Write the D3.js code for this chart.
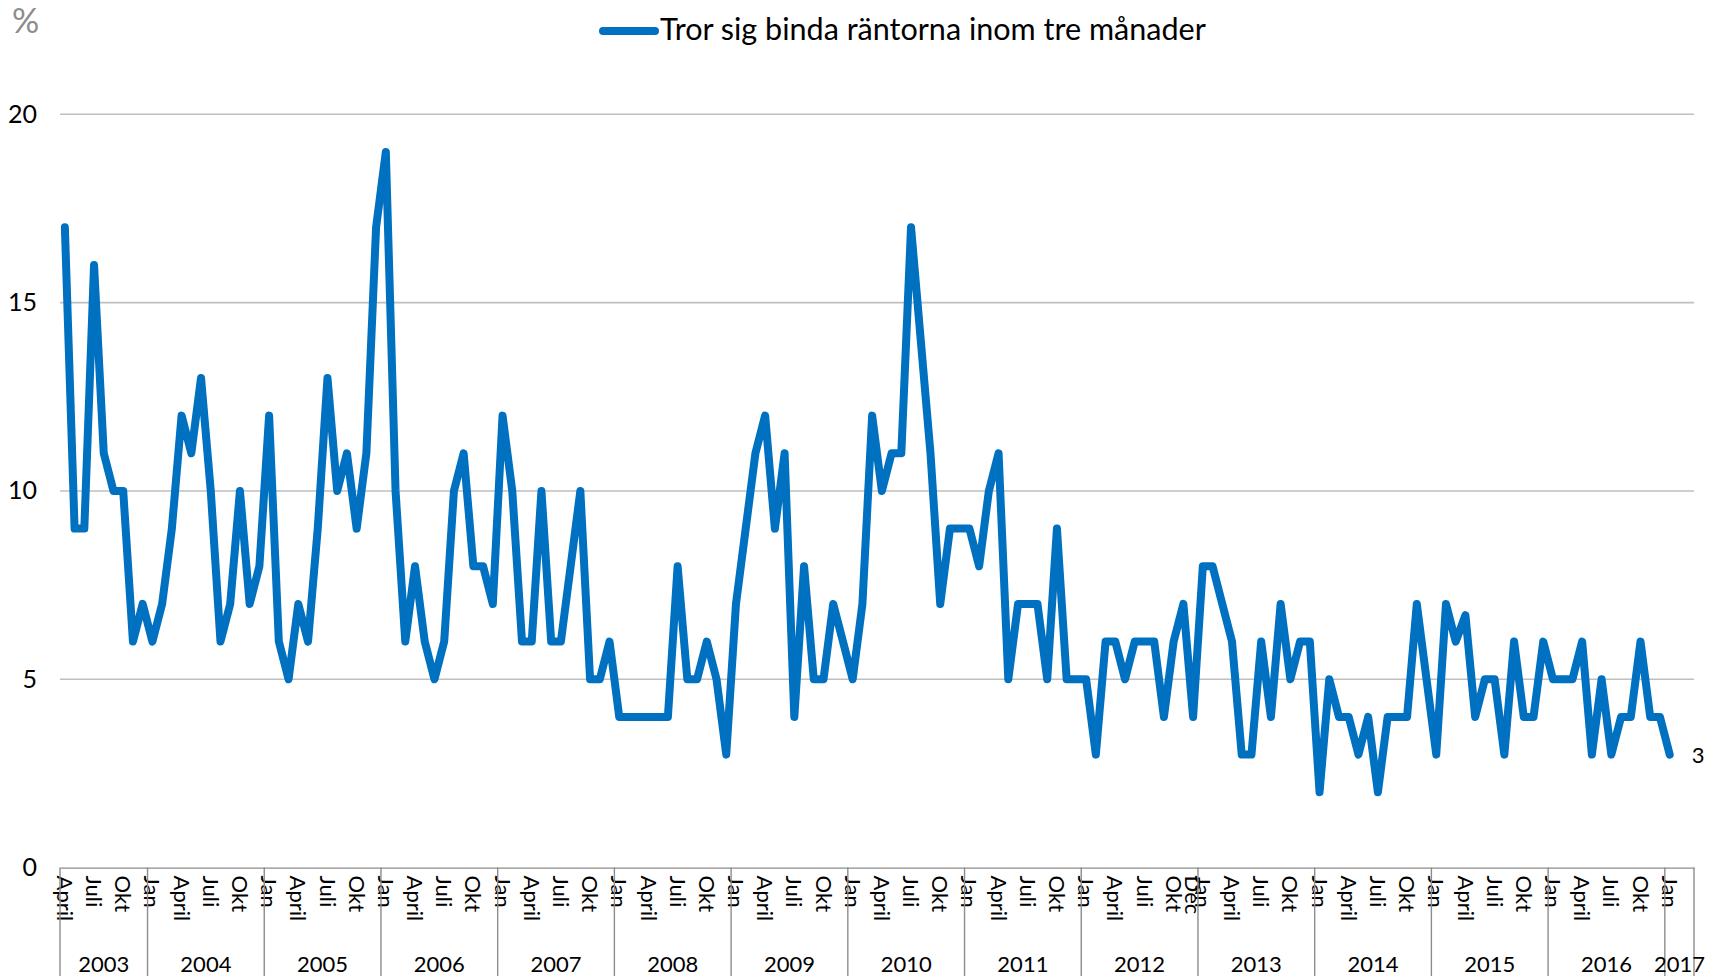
<!DOCTYPE html>
<html><head><meta charset="utf-8">
<script src="https://cdn.jsdelivr.net/npm/d3@7"></script>
<style>
body{margin:0;background:#fff;}
text{font-family:Lato,"Open Sans","DejaVu Sans",sans-serif;}
</style>
</head><body>
<svg id="c" width="1713" height="976"></svg>
<script>
// ---- data ----
const seriesName = "Tror sig binda räntorna inom tre månader";
const years = [2003,2004,2005,2006,2007,2008,2009,2010,2011,2012,2013,2014,2015,2016,2017];
const firstMonth = 3;           // April 2003 (0 = Jan)
const lastYearMonths = 3;       // 2017: Jan–Mar categories on axis
const monthLabels = {0:"Jan",3:"April",6:"Juli",9:"Okt"};
const extraLabels = [{year:2012, month:11, text:"Dec"}];
const values = [
  17,9,9,16,11,10,10,6,7,                 // 2003 Apr–Dec
  6,7,9,12,11,13,10,6,7,10,7,8,           // 2004
  12,6,5,7,6,9,13,10,11,9,11,17,          // 2005
  19,10,6,8,6,5,6,10,11,8,8,7,            // 2006
  12,10,6,6,10,6,6,8,10,5,5,6,            // 2007
  4,4,4,4,4,4,8,5,5,6,5,3,                // 2008
  7,9,11,12,9,11,4,8,5,5,7,6,             // 2009
  5,7,12,10,11,11,17,14,11,7,9,9,         // 2010
  9,8,10,11,5,7,7,7,5,9,5,5,              // 2011
  5,3,6,6,5,6,6,6,4,6,7,4,                // 2012
  8,8,7,6,3,3,6,4,7,5,6,6,                // 2013
  2,5,4,4,3,4,2,4,4,4,7,5,                // 2014
  3,7,6,6.7,4,5,5,3,6,4,4,6,              // 2015
  5,5,5,6,3,5,3,4,4,6,4,4,                // 2016
  3                                       // 2017 Jan
];
const yTicks = [0,5,10,15,20];
const gridTicks = [5,10,15,20];

// ---- categories ----
const cats = [];
years.forEach((yr,i)=>{
  const m0 = i===0 ? firstMonth : 0;
  const m1 = i===years.length-1 ? lastYearMonths : 12;
  for(let m=m0;m<m1;m++) cats.push({year:yr, month:m, key:yr+"-"+m});
});
const data = values.map((v,i)=>({key:cats[i].key, value:v}));

// ---- layout ----
const svg = d3.select("#c");
const x = d3.scaleBand().domain(cats.map(d=>d.key)).range([60,1694]).padding(0);
const y = d3.scaleLinear().domain([0,20]).range([867.6,114.3]);
const cx = k => x(k) + x.bandwidth()/2;

// gridlines
svg.append("g").selectAll("line").data(gridTicks).join("line")
  .attr("x1",60).attr("x2",1694)
  .attr("y1",d=>y(d)).attr("y2",d=>y(d))
  .attr("stroke","#bfbfbf").attr("stroke-width",1.6);

// y axis labels
const yAxis = svg.append("g").attr("transform","translate(41,0)")
  .call(d3.axisLeft(y).tickValues(yTicks).tickSize(0).tickPadding(4).tickFormat(d3.format("d")));
yAxis.select(".domain").remove();
yAxis.selectAll("text").attr("font-size",25).attr("fill","#000")
  .style("font-family","Lato,'Open Sans',sans-serif");

// x axis
const labelFor = c => {
  const ex = extraLabels.find(e=>e.year===c.year && e.month===c.month);
  if(ex) return ex.text;
  return monthLabels[c.month];
};
const labeled = cats.filter(c=>labelFor(c)!==undefined);
const labelMap = new Map(labeled.map(c=>[c.key,labelFor(c)]));
const xAxis = svg.append("g").attr("transform","translate(0,867.6)")
  .call(d3.axisBottom(x).tickValues(labeled.map(c=>c.key)).tickSize(0).tickSizeOuter(0)
    .tickFormat(k=>labelMap.get(k)));
xAxis.select(".domain").attr("stroke","#8c8c8c").attr("stroke-width",1.4);
xAxis.selectAll("text")
  .attr("transform","rotate(90)")
  .attr("x",8).attr("y",0).attr("dy","0.36em")
  .attr("text-anchor","start")
  .attr("font-size",22).attr("fill","#000")
  .style("font-family","Lato,'Open Sans',sans-serif");

// year separators
const sepX = [60, ...years.slice(1).map(yr=>x(yr+"-0")), 1694];
svg.append("g").selectAll("line").data(sepX).join("line")
  .attr("x1",d=>d).attr("x2",d=>d).attr("y1",867.6).attr("y2",976)
  .attr("stroke","#8c8c8c").attr("stroke-width",1.4);

// year labels
svg.append("g").selectAll("text").data(years).join("text")
  .attr("x",yr=>{
    const cs = cats.filter(c=>c.year===yr);
    const a = x(cs[0].key), b = x(cs[cs.length-1].key)+x.bandwidth();
    return (a+b)/2;
  })
  .attr("y",963).attr("dominant-baseline","central").attr("text-anchor","middle")
  .attr("font-size",22).attr("fill","#000").text(yr=>yr);

// line
const line = d3.line().x(d=>cx(d.key)).y(d=>y(d.value));
svg.append("path").datum(data).attr("d",line)
  .attr("fill","none").attr("stroke","#0070c0").attr("stroke-width",8)
  .attr("stroke-linejoin","round").attr("stroke-linecap","round");

// last value label
const last = data[data.length-1];
svg.append("text").attr("x",cx(last.key)+22).attr("y",y(last.value))
  .attr("dominant-baseline","central").attr("font-size",22).attr("fill","#000")
  .text(d3.format("d")(last.value));

// legend
svg.append("line").attr("x1",603).attr("x2",655).attr("y1",31).attr("y2",31)
  .attr("stroke","#0070c0").attr("stroke-width",8).attr("stroke-linecap","round");
const lt = svg.append("text").attr("x",660).attr("y",40).attr("font-size",28)
  .attr("fill","#000").text(seriesName);
const w = lt.node().getComputedTextLength();
lt.attr("font-size", 28*546/w);

// unit
svg.append("text").attr("x",12).attr("y",33).attr("font-size",34)
  .attr("fill","#8c8c8c").text("%");
</script>
</body></html>
